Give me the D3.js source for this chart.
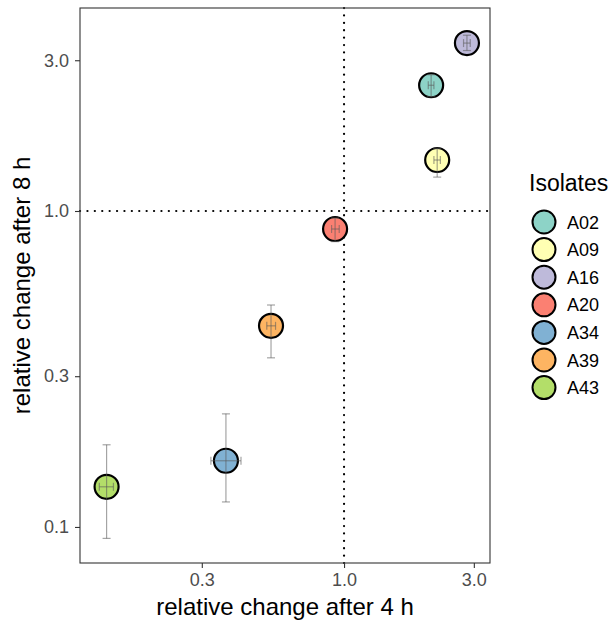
<!DOCTYPE html>
<html><head><meta charset="utf-8">
<script src="https://cdn.jsdelivr.net/npm/d3@7"></script>
<style>body{margin:0;background:#fff}svg{display:block}text{font-family:"Liberation Sans",Arial,sans-serif}</style>
</head><body>
<script>
const isolates = ["A02","A09","A16","A20","A34","A39","A43"];
const colors = ["#8DD3C7","#FFFFB3","#BEBADA","#FB8072","#80B1D3","#FDB462","#B3DE69"];
const x4h = [2.09, 2.20, 2.83, 0.927, 0.368, 0.539, 0.134];
const x4hLo = [2.04, 2.14, 2.75, 0.90, 0.324, 0.52, 0.126];
const x4hHi = [2.14, 2.26, 2.91, 0.96, 0.418, 0.56, 0.142];
const y8h = [2.50, 1.45, 3.40, 0.877, 0.162, 0.433, 0.134];
const y8hLo = [2.30, 1.28, 3.22, 0.80, 0.120, 0.343, 0.092];
const y8hHi = [2.70, 1.58, 3.60, 0.95, 0.228, 0.504, 0.182];
const xTicks = [0.3, 1.0, 3.0];
const yTicks = [0.1, 0.3, 1.0, 3.0];

const W = 616, H = 624;
const L = 80, R = 490, T = 8, B = 563;
const svg = d3.select("body").append("svg").attr("width", W).attr("height", H);
const x = d3.scaleLog().domain([0.107, 3.44]).range([L, R]);
const y = d3.scaleLog().domain([0.0769, 4.39]).range([B, T]);

// reference lines
svg.append("line").attr("x1", L).attr("x2", R).attr("y1", y(1)).attr("y2", y(1))
  .attr("stroke", "#000").attr("stroke-width", 2.2).attr("stroke-dasharray", "0.1 7.3").attr("stroke-linecap", "round");
svg.append("line").attr("y1", T).attr("y2", B).attr("x1", x(1)).attr("x2", x(1))
  .attr("stroke", "#000").attr("stroke-width", 2.2).attr("stroke-dasharray", "0.1 7.3").attr("stroke-linecap", "round");

const data = isolates.map((d, i) => ({id: d, c: colors[i], x: x4h[i], xl: x4hLo[i], xh: x4hHi[i], y: y8h[i], yl: y8hLo[i], yh: y8hHi[i]}));

// points
svg.append("g").selectAll("circle").data(data).join("circle")
  .attr("cx", d => x(d.x)).attr("cy", d => y(d.y)).attr("r", 12)
  .attr("fill", d => d.c).attr("stroke", "#000").attr("stroke-width", 2.2);

// error bars
const eb = svg.append("g").attr("stroke", "rgba(90,90,90,0.55)").attr("stroke-width", 1.2).attr("fill", "none");
const cap = 4;
data.forEach(d => {
  const cx = x(d.x), cy = y(d.y);
  eb.append("line").attr("x1", cx).attr("x2", cx).attr("y1", y(d.yl)).attr("y2", y(d.yh));
  eb.append("line").attr("x1", cx - cap).attr("x2", cx + cap).attr("y1", y(d.yl)).attr("y2", y(d.yl));
  eb.append("line").attr("x1", cx - cap).attr("x2", cx + cap).attr("y1", y(d.yh)).attr("y2", y(d.yh));
  eb.append("line").attr("y1", cy).attr("y2", cy).attr("x1", x(d.xl)).attr("x2", x(d.xh));
  eb.append("line").attr("y1", cy - cap).attr("y2", cy + cap).attr("x1", x(d.xl)).attr("x2", x(d.xl));
  eb.append("line").attr("y1", cy - cap).attr("y2", cy + cap).attr("x1", x(d.xh)).attr("x2", x(d.xh));
});

// panel border
svg.append("rect").attr("x", L).attr("y", T).attr("width", R - L).attr("height", B - T)
  .attr("fill", "none").attr("stroke", "#333").attr("stroke-width", 1.1);

// axes
const fmt = d3.format(".1f");
const xa = svg.append("g").attr("transform", `translate(0,${B})`)
  .call(d3.axisBottom(x).tickValues(xTicks).tickFormat(fmt).tickSize(5).tickPadding(5));
const ya = svg.append("g").attr("transform", `translate(${L},0)`)
  .call(d3.axisLeft(y).tickValues(yTicks).tickFormat(fmt).tickSize(5).tickPadding(6));
[xa, ya].forEach(a => {
  a.select(".domain").remove();
  a.selectAll(".tick line").attr("stroke", "#333").attr("stroke-width", 1.1);
  a.selectAll(".tick text").attr("fill", "#4d4d4d").style("font-size", "18px").style("font-family", '"Liberation Sans",Arial,sans-serif');
});

// titles
svg.append("text").attr("x", (L + R) / 2).attr("y", 615).attr("text-anchor", "middle")
  .attr("font-size", 24).attr("fill", "#000").text("relative change after 4 h");
svg.append("text").attr("transform", `translate(30,${(T + B) / 2}) rotate(-90)`).attr("text-anchor", "middle")
  .attr("font-size", 24).attr("fill", "#000").text("relative change after 8 h");

// legend
const lg = svg.append("g");
lg.append("text").attr("x", 529).attr("y", 191).attr("font-size", 23).attr("fill", "#000").text("Isolates");
const items = lg.selectAll("g.item").data(data).join("g").attr("class", "item")
  .attr("transform", (d, i) => `translate(0,${222 + i * 27.6})`);
items.append("circle").attr("cx", 544).attr("cy", 0).attr("r", 11.5)
  .attr("fill", d => d.c).attr("stroke", "#000").attr("stroke-width", 2);
items.append("text").attr("x", 567).attr("y", 6.5).attr("font-size", 18).attr("fill", "#000").text(d => d.id);
</script>
</body></html>
